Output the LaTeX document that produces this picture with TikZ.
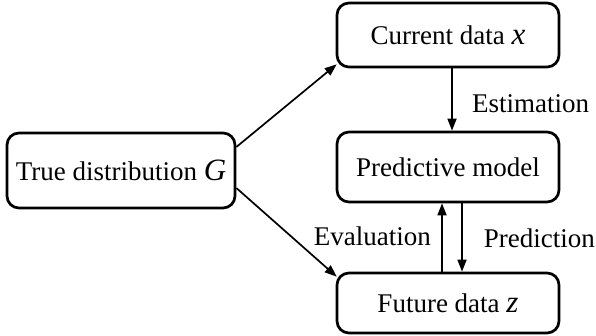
\documentclass[tikz,border=0pt]{standalone}
\usepackage{fontspec}
\setmainfont{Liberation Serif}
\usetikzlibrary{calc,arrows.meta}
\newcommand{\varlet}[1]{{\fontsize{31}{30}\selectfont\itshape #1}}
\begin{document}
\begin{tikzpicture}[x=1pt,y=-1pt,
  box/.style={draw,line width=2.7pt,rounded corners=12pt,inner sep=0pt,
    font=\fontsize{27}{31}\selectfont},
  lbl/.style={inner sep=0pt,font=\fontsize{27}{31}\selectfont},
  arr/.style={line width=1.7pt,-{Triangle[length=12pt,width=9pt]}}]
\useasboundingbox (0,0) rectangle (596,336);
\node[box,minimum width=228pt,minimum height=75pt] (G) at (121,170.5) {True distribution \varlet{G}};
\node[box,minimum width=222pt,minimum height=64pt] (X) at (448,35) {Current data \varlet{x}};
\node[box,minimum width=222pt,minimum height=70pt] (P) at (448,167) {Predictive model};
\node[box,minimum width=222pt,minimum height=60pt] (Z) at (448,303) {Future data \varlet{z}};
\draw[arr] ($(G.east)+(0,-23.5)$) -- ($(X.south west)+(1,-4)$);
\draw[arr] ($(G.east)+(0,17.5)$) -- ($(Z.north west)+(1,5)$);
\draw[arr] ($(X.south)+(4,0)$) -- ($(P.north)+(4,0)$);
\draw[arr] ($(Z.north)+(-6,0)$) -- ($(P.south)+(-6,0)$);
\draw[arr] ($(P.south)+(14,0)$) -- ($(Z.north)+(14,0)$);
\node[lbl,anchor=west] (le) at (472,104) {Estimation};
\node[lbl,anchor=east] (lv) at (431,236) {Evaluation};
\node[lbl,anchor=east] (lp) at (595,238) {Prediction};
\end{tikzpicture}
\end{document}
